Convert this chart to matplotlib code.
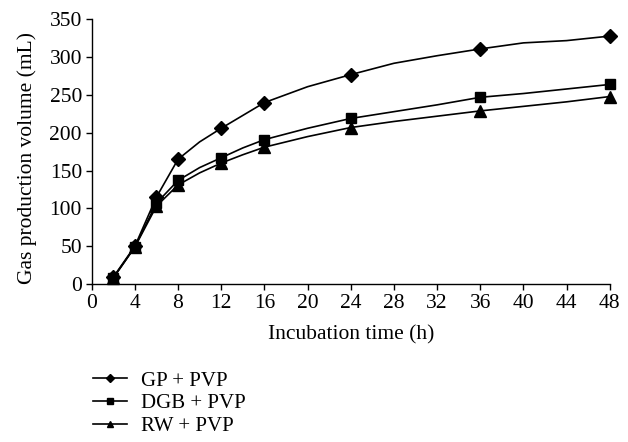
import matplotlib
matplotlib.use("Agg")
import matplotlib.pyplot as plt

# Incubation time (h) — all line vertices; markers drawn at the measured times only
time_h = [2, 4, 6, 8, 10, 12, 14, 16, 20, 24, 28, 32, 36, 40, 44, 48]
marker_times = [2, 4, 6, 8, 12, 16, 24, 36, 48]

gp_pvp = [9, 50, 115, 165, 188, 206, 223, 240, 261, 277, 292, 302, 311, 319, 322, 328]
dgb_pvp = [8, 49, 107, 137, 154, 167, 180, 191, 206, 219, 228, 237, 247, 252, 258, 264]
rw_pvp = [8, 49, 103, 131, 147, 160, 171, 181, 195, 207, 215, 222, 229, 235, 241, 248]

series_labels = ["GP + PVP", "DGB + PVP", "RW + PVP"]
x_ticks = list(range(0, 49, 4))
y_ticks = list(range(0, 351, 50))

plt.rcParams['font.family'] = ['Liberation Serif', 'DejaVu Serif']

fig = plt.figure(figsize=(6.28, 4.42), dpi=100)
ax = fig.add_axes([0.146, 0.3575, 0.825, 0.5985])

mk_idx = [time_h.index(t) for t in marker_times]
styles = [("D", 7), ("s", 7), ("^", 8)]
for vals, lab, (m, ms) in zip([gp_pvp, dgb_pvp, rw_pvp], series_labels, styles):
    ax.plot(time_h, vals, color="black", linewidth=1.2, marker=m, markersize=ms,
            markevery=mk_idx, label=lab, clip_on=False)

ax.set_xlim(0, 48)
ax.set_ylim(0, 350)
ax.set_xticks(x_ticks)
ax.set_yticks(y_ticks)
for s in ["top", "right"]:
    ax.spines[s].set_visible(False)
for s in ["left", "bottom"]:
    ax.spines[s].set_linewidth(1.0)
ax.tick_params(direction="out", length=4.5, width=1.0, labelsize=15.5, pad=2.5)
ax.set_xlabel("Incubation time (h)", fontsize=15.5, labelpad=9)
ax.set_ylabel("Gas production volume (mL)", fontsize=15.5)
ax.yaxis.set_label_coords(-0.106, 0.478)

leg = ax.legend(loc="upper left", bbox_to_anchor=(0.0025, -0.329), frameon=False,
                fontsize=15, handlelength=1.63, markerscale=0.6, labelspacing=0.15,
                handletextpad=0.67, borderaxespad=0, borderpad=0)

fig.savefig("out.png", dpi=100)
